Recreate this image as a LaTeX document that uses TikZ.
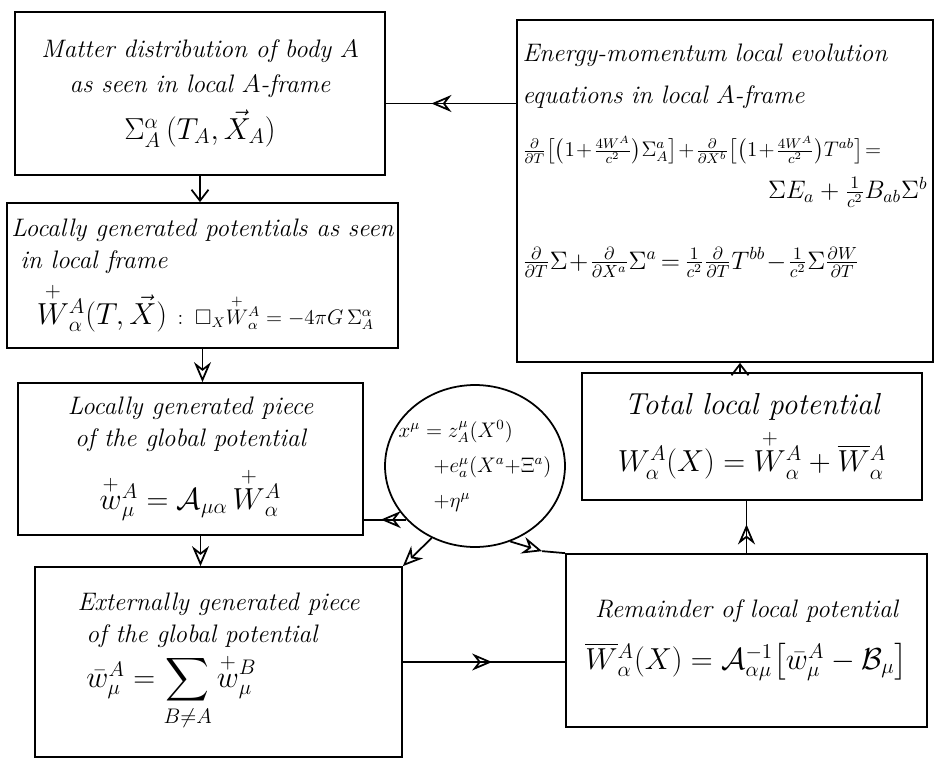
\documentclass[tikz,border=0pt]{standalone}
\usepackage{amsmath,amssymb}
\usepackage{tikz}
\usetikzlibrary{arrows.meta,positioning,calc,shapes.geometric,decorations.markings}

\begin{document}
\begin{tikzpicture}[x=0.02cm,y=-0.02cm,font=\Large\itshape,line width=1pt,every node/.style={align=center},
  box/.style={draw,line width=1pt,inner sep=0pt},
  tip/.style={-{Stealth[open,length=4mm,width=3.4mm]}},
  barb/.style={-{Straight Barb[length=2.2mm,width=3.4mm]}},
  midtip/.style={postaction={decorate},decoration={markings,mark=at position #1 with {\arrow{Stealth[open,length=4mm,width=3.4mm]}}}},
  midtip/.default=0.5]
  \useasboundingbox (0,0) rectangle (938,762);
  % matter distribution
  \node[box,minimum width=7.4cm,minimum height=3.26cm] (matter) at (200,93.5) {};
  \node (matter-t) at (matter) {Matter distribution of body $A$\\[2pt] as seen in local $A$-frame\\[6pt] \LARGE$\Sigma^{\alpha}_{A}\,(T_A,\vec{X}_A)$};
  % locally generated potentials
  \node[box,minimum width=7.82cm,minimum height=2.9cm] (pot) at (202.5,275.5) {};
  \node[align=left] (pot-t) at (pot) {Locally generated potentials as seen\\ \ in local frame\\[4pt] \quad\LARGE$\overset{+}{W}{}^A_\alpha(T,\vec X)$ \large$:\;\Box_X\overset{+}{W}{}^A_\alpha=-4\pi G\,\Sigma^\alpha_A$};
  % locally generated piece
  \node[box,minimum width=6.9cm,minimum height=3.04cm] (loc) at (190.5,459) {};
  \node (loc-t) at (loc) {Locally generated piece\\ of the global potential\\[8pt] \LARGE$\overset{+}{w}{}^A_\mu=\mathcal{A}_{\mu\alpha}\,\overset{+}{W}{}^A_\alpha$};
  % externally generated piece
  \node[box,minimum width=7.34cm,minimum height=3.8cm] (ext) at (218.5,662) {};
  \node[align=left] (ext-t) at (ext) {Externally generated piece\\ \ of the global potential\\[2pt] \ \LARGE$\bar{w}^A_\mu=\displaystyle\sum_{B\neq A}\overset{+}{w}{}^B_\mu$};
  % energy-momentum equations
  \node[box,minimum width=8.32cm,minimum height=6.84cm] (evol) at (725,191) {};
  \node[text width=8.1cm,align=left] (evol-t) at ($(evol)+(0,-30)$) {Energy-momentum local evolution\\[6pt] equations in local $A$-frame\\[12pt]
    {\large\medmuskip=1mu\thickmuskip=2mu$\frac{\partial}{\partial T}\bigl[\bigl(1+\frac{4W^A}{c^2}\bigr)\Sigma^a_A\bigr]+\frac{\partial}{\partial X^b}\bigl[\bigl(1+\frac{4W^A}{c^2}\bigr)T^{ab}\bigr]=$}\\[6pt]
    \hspace*{\fill}$\Sigma E_a+\frac{1}{c^2}B_{ab}\Sigma^b$\quad\\[22pt]
    {\medmuskip=1mu\thickmuskip=3mu$\frac{\partial}{\partial T}\Sigma+\frac{\partial}{\partial X^a}\Sigma^a=\frac{1}{c^2}\frac{\partial}{\partial T}T^{bb}-\frac{1}{c^2}\Sigma\frac{\partial W}{\partial T}$}};
  % total local potential
  \node[box,minimum width=6.8cm,minimum height=2.54cm] (tot) at (752,436.5) {};
  \node (tot-t) at (tot) {\LARGE Total local potential\\[4pt] \LARGE$W^A_\alpha(X)=\overset{+}{W}{}^A_\alpha+\overline{W}{}^A_\alpha$};
  % remainder
  \node[box,minimum width=7.22cm,minimum height=3.46cm] (rem) at (746.5,640.5) {};
  \node (rem-t) at (rem) {Remainder of local potential\\[10pt] \fontsize{17.5}{21}\selectfont$\overline{W}{}^A_\alpha(X)=\mathcal{A}^{-1}_{\alpha\mu}\bigl[\bar{w}^A_\mu-\mathcal{B}_\mu\bigr]$};
  % coordinate transformation
  \node[box,ellipse,minimum width=3.6cm,minimum height=3.24cm] (blob) at (475,466) {};
  \node[align=left,font=\large] (blob-t) at (blob) {$x^\mu=z^\mu_A(X^0)$\\[6pt] \hspace{0.7cm}$+e^\mu_a(X^a{+}\Xi^a)$\\[6pt] \hspace{0.7cm}$+\eta^\mu$};
  % connectors
  \draw[barb] (matter.south) -- (matter.south |- pot.north);
  \draw[tip] (pot.south) -- (pot.south |- loc.north);
  \draw[tip] ([xshift=2mm]loc.south) -- ([xshift=2mm]loc.south |- ext.north);
  \draw[midtip=0.65] ([yshift=-2mm]matter.east -| evol.west) -- ([yshift=-2mm]matter.east);
  \draw[midtip=0.55] (ext.east) -- (ext.east -| rem.west);
  \draw[midtip=0.55] (rem.north) -- (rem.north |- tot.south);
  \draw[barb] ([xshift=-2.4mm]tot.north) -- ([xshift=-2.4mm]tot.north |- evol.south);
  \draw[midtip=0.6] (blob.218) -- (blob.218 -| loc.east);
  \draw[tip] (blob.239) -- (ext.north east);
  \coordinate (bend) at ($(rem.north west)+(-23,-2)$);
  \draw[tip] (blob.295) -- (bend);
  \draw (bend) -- (rem.north west);
\end{tikzpicture}
\end{document}
